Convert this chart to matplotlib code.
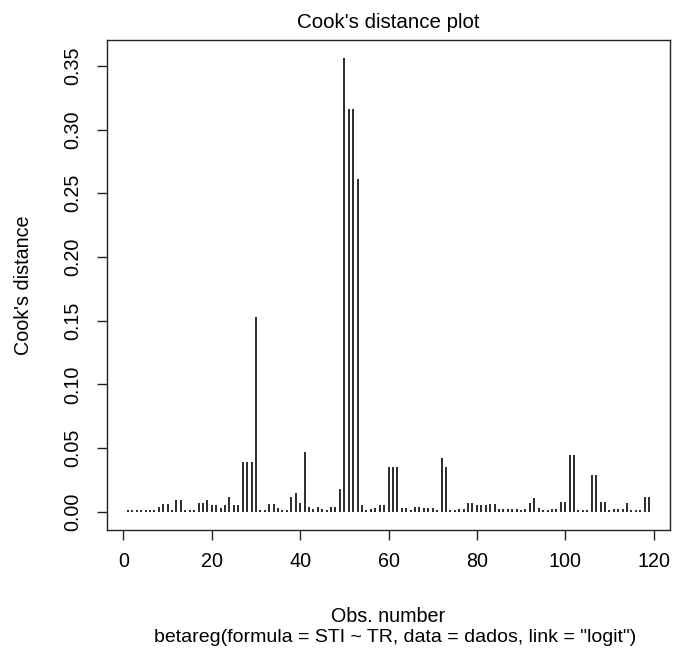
import numpy as np
import matplotlib
matplotlib.use("Agg")
import matplotlib.pyplot as plt

plt.rcParams['font.family'] = ['Liberation Sans', 'DejaVu Sans']

# Cook's distance for each observation of the beta regression fit
cooks_d = [
    0.0012, 0.0012, 0.0012, 0.0012, 0.0012, 0.0012, 0.0012, 0.004, 0.006, 0.006,
    0.0015, 0.009, 0.009, 0.0012, 0.0012, 0.0018, 0.007, 0.007, 0.009, 0.005,
    0.005, 0.003, 0.005, 0.012, 0.005, 0.005, 0.039, 0.039, 0.039, 0.153,
    0.0015, 0.0015, 0.006, 0.006, 0.003, 0.0015, 0.0012, 0.012, 0.015, 0.007,
    0.047, 0.004, 0.002, 0.004, 0.002, 0.0017, 0.004, 0.004, 0.018, 0.356,
    0.316, 0.316, 0.261, 0.005, 0.0017, 0.002, 0.003, 0.005, 0.005, 0.035,
    0.035, 0.035, 0.003, 0.003, 0.0017, 0.004, 0.004, 0.003, 0.003, 0.003,
    0.0017, 0.042, 0.035, 0.0017, 0.0017, 0.002, 0.002, 0.007, 0.007, 0.005,
    0.005, 0.005, 0.006, 0.006, 0.002, 0.002, 0.002, 0.002, 0.002, 0.0012,
    0.002, 0.007, 0.0105, 0.003, 0.0012, 0.0017, 0.002, 0.002, 0.008, 0.008,
    0.045, 0.045, 0.0012, 0.0012, 0.0012, 0.029, 0.029, 0.008, 0.008, 0.0012,
    0.002, 0.002, 0.002, 0.007, 0.0012, 0.0012, 0.0012, 0.012, 0.012,
]
obs = np.arange(1, len(cooks_d) + 1)

x_ticks = [0, 20, 40, 60, 80, 100, 120]
y_ticks = [0.00, 0.05, 0.10, 0.15, 0.20, 0.25, 0.30, 0.35]
y_tick_labels = [f"{v:.2f}" for v in y_ticks]

W, H = 674, 654
FS = 14.2
fig = plt.figure(figsize=(W / 100, H / 100), dpi=100)

# plot region in pixels: left 107, right 670, top 40, bottom 530
ax = fig.add_axes([107 / W, 1 - 530 / H, (670 - 107) / W, (530 - 40) / H])

ax.vlines(obs, 0, cooks_d, colors="#1a1a1a", linewidth=1.3)

# R-style 4% range expansion
n = len(cooks_d)
xr = n - 1
ax.set_xlim(1 - 0.04 * xr, n + 0.04 * xr)
ymax = max(cooks_d)
ax.set_ylim(-0.04 * ymax, ymax * 1.04)

ax.set_xticks(x_ticks)
ax.set_xticklabels([str(v) for v in x_ticks], fontsize=FS)
ax.set_yticks(y_ticks)
ax.set_yticklabels(y_tick_labels, fontsize=FS, rotation=90, va="center")

for sp in ax.spines.values():
    sp.set_linewidth(1.0)
    sp.set_color("#222222")

ax.tick_params(axis="both", direction="out", length=7, width=1.0, color="#222222")
ax.tick_params(axis="x", pad=9)
ax.tick_params(axis="y", pad=10.5)

fig.text(388.5 / W, 1 - 22 / H, "Cook's distance plot", ha="center", va="center", fontsize=14.8)
fig.text(388.5 / W, 1 - 617 / H, "Obs. number", ha="center", va="center", fontsize=FS)
fig.text(395 / W, 1 - 637 / H, 'betareg(formula = STI ~ TR, data = dados, link = "logit")',
         ha="center", va="center", fontsize=14)
fig.text(24 / W, 1 - 285 / H, "Cook's distance", ha="center", va="center",
         rotation=90, fontsize=FS)

fig.savefig("out.png", dpi=100, facecolor="white")
